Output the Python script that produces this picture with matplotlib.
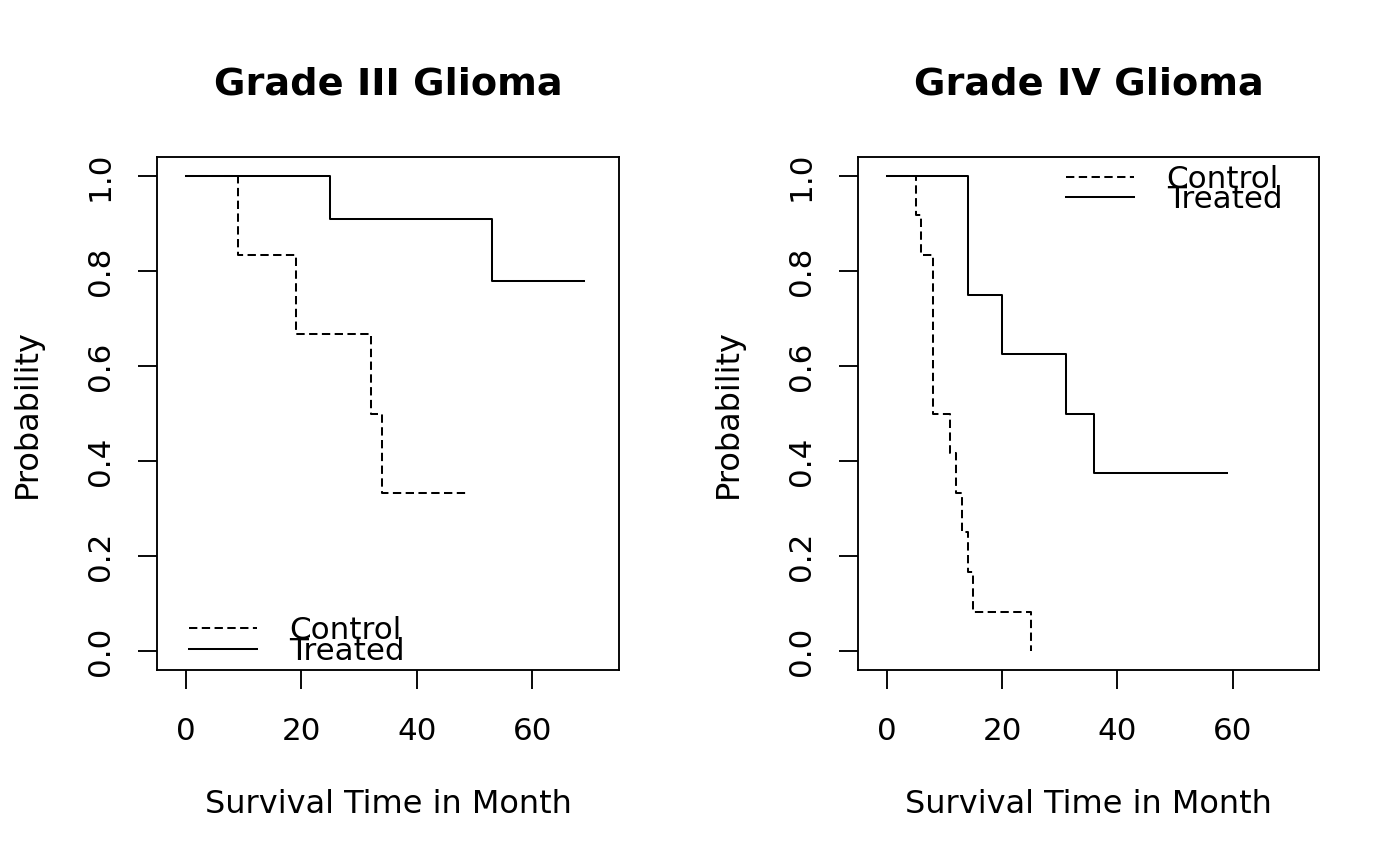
import matplotlib
matplotlib.use("Agg")
import matplotlib.pyplot as plt

# Kaplan-Meier step values
g3_ctrl_t = [0, 9, 19, 32, 34, 49]
g3_ctrl_s = [1.0, 0.833, 0.667, 0.5, 0.333, 0.333]
g3_trt_t = [0, 25, 53, 69]
g3_trt_s = [1.0, 0.909, 0.778, 0.778]

g4_ctrl_t = [0, 5, 6, 8, 11, 12, 13, 14, 15, 25]
g4_ctrl_s = [1.0, 0.917, 0.833, 0.5, 0.417, 0.333, 0.25, 0.167, 0.083, 0.0]
g4_trt_t = [0, 14, 20, 31, 36, 59]
g4_trt_s = [1.0, 0.75, 0.625, 0.5, 0.375, 0.375]

titles = ["Grade III Glioma", "Grade IV Glioma"]
xticks = [0, 20, 40, 60]
yticks = [0.0, 0.2, 0.4, 0.6, 0.8, 1.0]

plt.rcParams['font.family'] = 'DejaVu Sans'
plt.rcParams['lines.scale_dashes'] = False

fig = plt.figure(figsize=(14, 8.66), dpi=100)
ax1 = fig.add_axes([0.1121, 0.2263, 0.33, 0.5924])
ax2 = fig.add_axes([0.6129, 0.2263, 0.3293, 0.5924])

panels = [
    (ax1, g3_ctrl_t, g3_ctrl_s, g3_trt_t, g3_trt_s),
    (ax2, g4_ctrl_t, g4_ctrl_s, g4_trt_t, g4_trt_s),
]

for i, (ax, ct, cs, tt, ts) in enumerate(panels):
    ax.step(ct, cs, where='post', color='black', lw=1.45, dashes=(6, 3.2), label='Control')
    ax.step(tt, ts, where='post', color='black', lw=1.45, label='Treated')
    ax.set_xlim(-5, 75)
    ax.set_ylim(-0.04, 1.04)
    ax.set_xticks(xticks)
    ax.set_yticks(yticks)
    ax.set_yticklabels(["%.1f" % v for v in yticks], rotation=90, va='center')
    ax.tick_params(direction='out', length=13.5, width=1.35, labelsize=22.3, pad=17)
    ax.tick_params(axis='x', pad=20)
    for sp in ax.spines.values():
        sp.set_linewidth(1.35)
    ax.set_xlabel("Survival Time in Month", fontsize=23)
    ax.set_ylabel("Probability", fontsize=23)
    ax.xaxis.set_label_coords(0.5, -0.263)
    ax.xaxis.label.set_va('center')
    ax.yaxis.set_label_coords(-0.281, 0.5)
    ax.yaxis.label.set_va('center')
    ax.set_title(titles[i], fontsize=27.5, fontweight='bold', y=1.1228, pad=0)

leg_kw = dict(frameon=False, fontsize=22.3, handlelength=2.2, handletextpad=1.05,
              labelspacing=-0.27, borderpad=0, borderaxespad=0)
ax1.legend(loc='lower left', bbox_to_anchor=(0.069, 0.008), **leg_kw)
ax2.legend(loc='upper left', bbox_to_anchor=(0.451, 0.985), **leg_kw)

fig.savefig("out.png", dpi=100)
